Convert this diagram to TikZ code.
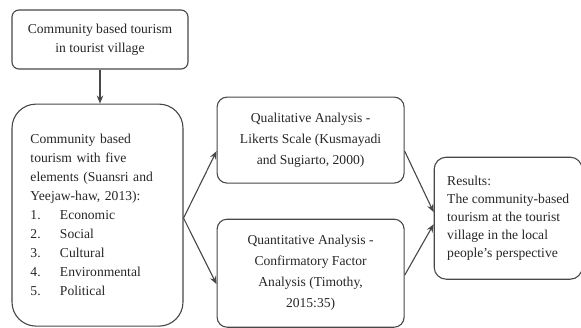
\documentclass[tikz,border=0pt]{standalone}
\usepackage{fontspec}
\setmainfont{Liberation Serif}
\usetikzlibrary{positioning, arrows.meta}

\begin{document}
\begin{tikzpicture}[
    x=1pt, y=-1pt,
    block/.style={rectangle, draw=black!72, line width=1.1pt, text=black!85, inner sep=0pt, font=\fontsize{13.6pt}{18pt}\selectfont},
    srcbox/.style={block, rounded corners=7pt, minimum width=176pt, minimum height=59pt, align=center, font=\fontsize{13.6pt}{19pt}\selectfont},
    listbox/.style={block, rounded corners=24pt, minimum width=171pt, minimum height=222pt, text width=134pt, align=left, font=\fontsize{13.6pt}{19pt}\selectfont},
    method/.style={block, rounded corners=10pt, minimum width=187pt, align=center, font=\fontsize{13.6pt}{21pt}\selectfont},
    result/.style={block, rounded corners=12pt, minimum width=148pt, minimum height=122pt, align=left},
    arrow/.style={-{Stealth[length=8pt, width=6.5pt]}, line width=1.1pt, draw=black!72}
]
\useasboundingbox (0,0) rectangle (581,327);

\node[srcbox] (cbt) at (100,39.5) {Community based tourism\\in tourist village};
\node[listbox, below right=34pt and 0pt of cbt.south west] (elements) {Community based\\tourism with five\\elements (Suansri and\\Yeejaw-haw, 2013):\\
  \makebox[29.5pt][l]{1.}Economic\\
  \makebox[29.5pt][l]{2.}Social\\
  \makebox[29.5pt][l]{3.}Cultural\\
  \makebox[29.5pt][l]{4.}Environmental\\
  \makebox[29.5pt][l]{5.}Political};
\node[method, minimum height=86pt, below right=-7pt and 33pt of elements.north east] (qual) {Qualitative Analysis -\\Likerts Scale (Kusmayadi\\and Sugiarto, 2000)};
\node[method, minimum height=108pt, below=35pt of qual] (quant) {Quantitative Analysis -\\Confirmatory Factor\\Analysis (Timothy,\\2015:35)};
\node[result, below right=-27pt and 29pt of qual.south east] (results) {Results:\\The community-based\\tourism at the tourist\\village in the local\\people’s perspective};

\draw[arrow] (cbt) -- (cbt |- elements.north);
\draw[arrow] ([yshift=-3pt]elements.east) -- ([yshift=-11pt]qual.west);
\draw[arrow] ([yshift=-3pt]elements.east) -- ([yshift=-11pt]quant.west);
\draw[arrow] ([yshift=-11pt]qual.east) -- ([yshift=6pt]results.west);
\draw[arrow] ([yshift=-2pt]quant.east) -- ([yshift=-6pt]results.west);
\end{tikzpicture}
\end{document}
